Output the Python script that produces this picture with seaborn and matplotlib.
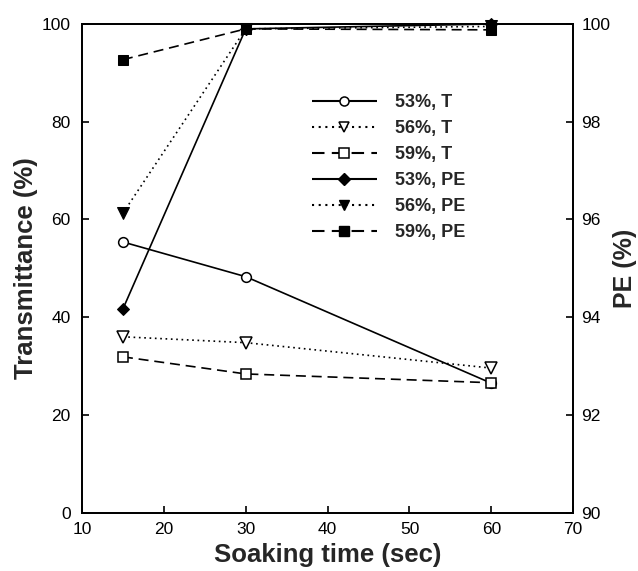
import matplotlib
matplotlib.use("Agg")
import matplotlib.pyplot as plt
import seaborn as sns
import pandas as pd
from matplotlib.lines import Line2D

sns.set_theme(style="white")
plt.rcParams['font.family'] = ['Liberation Sans', 'DejaVu Sans']

time = [15, 30, 60]
t53 = [55.4, 48.3, 26.5]
t56 = [36.0, 34.8, 29.6]
t59 = [31.9, 28.4, 26.6]
pe53 = [94.17, 99.9, 100.0]
pe56 = [96.13, 99.9, 99.95]
pe59 = [99.27, 99.9, 99.88]
labels_t = ["53%, T", "56%, T", "59%, T"]
labels_pe = ["53%, PE", "56%, PE", "59%, PE"]

fig = plt.figure(figsize=(6.38, 5.71), dpi=100)
ax = fig.add_axes([0.1285, 0.102, 0.77, 0.856])
ax2 = ax.twinx()

styles = [(0, ()), (0, (1, 2.2)), (0, (6, 3.5))]
markers_t = ["o", "v", "s"]
markers_pe = ["D", "v", "s"]
msize = {"o": 7, "v": 8, "s": 7.5, "D": 6.5}
handles = []
for vals, lab, ls, mk in zip([t53, t56, t59], labels_t, styles, markers_t):
    df = pd.DataFrame({"time": time, "val": vals})
    sns.lineplot(data=df, x="time", y="val", ax=ax, color="black", lw=1.2,
                 linestyle=ls, marker=mk, markersize=msize[mk],
                 markerfacecolor="white", markeredgecolor="black",
                 markeredgewidth=1.1, legend=False)
    handles.append(Line2D([], [], color="black", lw=1.5, linestyle=ls, marker=mk,
                          markersize=msize[mk] - 0.5, markerfacecolor="white",
                          markeredgecolor="black", markeredgewidth=1.1, label=lab))
for vals, lab, ls, mk in zip([pe53, pe56, pe59], labels_pe, styles, markers_pe):
    df = pd.DataFrame({"time": time, "val": vals})
    sns.lineplot(data=df, x="time", y="val", ax=ax2, color="black", lw=1.2,
                 linestyle=ls, marker=mk, markersize=msize[mk],
                 markerfacecolor="black", markeredgecolor="black",
                 legend=False, clip_on=False)
    handles.append(Line2D([], [], color="black", lw=1.5, linestyle=ls, marker=mk,
                          markersize=msize[mk] - 0.5,
                          markerfacecolor="black", markeredgecolor="black", label=lab))

ax.set_xlim(10, 70)
ax.set_ylim(0, 100)
ax2.set_ylim(90, 100)
ax.set_xticks(range(10, 71, 10))
ax.set_yticks(range(0, 101, 20))
ax2.set_yticks(range(90, 101, 2))

for a in (ax, ax2):
    for s in a.spines.values():
        s.set_color("black")
        s.set_linewidth(1.3)
ax.tick_params(axis="y", direction="in", length=5, width=1.2, labelsize=12.5,
               colors="black", left=True, right=False, pad=8)
ax.tick_params(axis="x", direction="in", length=5, width=1.2, labelsize=12.5,
               colors="black", bottom=True, top=False, pad=7)
ax2.tick_params(axis="y", direction="in", length=5, width=1.2, labelsize=12.5,
                colors="black", right=True, pad=6)

ax.set_xlabel("Soaking time (sec)", fontsize=18.5, fontweight="bold", labelpad=4)
ax.set_ylabel("Transmittance (%)", fontsize=18.5, fontweight="bold", labelpad=3)
ax2.set_ylabel("PE (%)", fontsize=18, fontweight="bold", labelpad=2)

leg = ax2.legend(handles=handles, loc="upper left", bbox_to_anchor=(0.435, 0.89),
                 frameon=False, handlelength=3.6, handletextpad=1.0,
                 labelspacing=0.5, prop={"weight": "bold", "size": 13})

fig.savefig("out.png", dpi=100)
